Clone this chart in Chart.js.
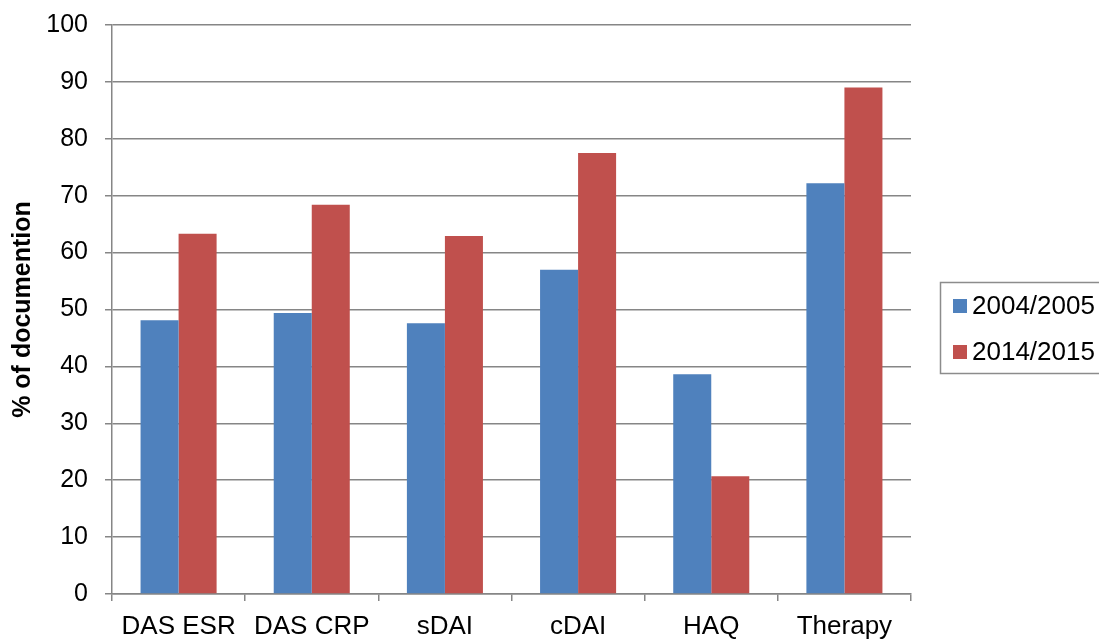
<!DOCTYPE html>
<html>
<head>
<meta charset="utf-8">
<script src="https://cdn.jsdelivr.net/npm/chart.js@4.4.1/dist/chart.umd.min.js"></script>
<style>
  html, body { margin: 0; padding: 0; background: #ffffff; }
  #wrap { width: 1099px; height: 639px; position: relative; }
</style>
</head>
<body>
<div id="wrap"><canvas id="chart" width="1099" height="639"></canvas></div>
<script>
// Documentation rates per measure, two survey periods
const categories = ['DAS ESR', 'DAS CRP', 'sDAI', 'cDAI', 'HAQ', 'Therapy'];
const series2004 = [48.1, 49.4, 47.6, 57.0, 38.6, 72.2];
const series2014 = [63.3, 68.4, 62.9, 77.5, 20.7, 89.0];
const seriesNames = ['2004/2005', '2014/2015'];
const yTicks = [0, 10, 20, 30, 40, 50, 60, 70, 80, 90, 100];

const FONT = "'Liberation Sans', Arial, Helvetica, sans-serif";
const GRID = '#868686';
const BLUE = '#4F81BD';
const RED = '#C0504D';

// Boxed legend to the right of the plot
const boxedLegend = {
  id: 'boxedLegend',
  afterDraw(chart) {
    const ctx = chart.ctx;
    const ds = chart.data.datasets;
    const left = 940.5, top = 282.5, right = 1110, bottom = 373.5;
    ctx.save();
    ctx.strokeStyle = '#8c8c8c';
    ctx.lineWidth = 1.5;
    ctx.strokeRect(left, top, right - left, bottom - top);
    ctx.font = '26px ' + FONT;
    ctx.textBaseline = 'middle';
    ctx.textAlign = 'left';
    const rowY = [306, 352];
    ds.forEach((d, i) => {
      ctx.fillStyle = d.backgroundColor;
      ctx.fillRect(953, rowY[i] - 7, 14, 14);
      ctx.fillStyle = '#000000';
      ctx.fillText(d.label, 972, rowY[i] + 1);
    });
    ctx.restore();
  }
};

new Chart(document.getElementById('chart'), {
  type: 'bar',
  data: {
    labels: categories,
    datasets: [
      { label: seriesNames[0], data: series2004, backgroundColor: BLUE, borderWidth: 0 },
      { label: seriesNames[1], data: series2014, backgroundColor: RED, borderWidth: 0 }
    ]
  },
  options: {
    responsive: false,
    animation: false,
    devicePixelRatio: 1,
    layout: { padding: { left: 0, top: 25, right: 188, bottom: 0 } },
    datasets: { bar: { categoryPercentage: 0.571, barPercentage: 1.0 } },
    plugins: {
      legend: { display: false },
      tooltip: { enabled: false }
    },
    scales: {
      x: {
        grid: {
          offset: true,
          drawOnChartArea: false,
          drawTicks: true,
          tickLength: 7,
          color: GRID,
          lineWidth: 1.5
        },
        border: { display: true, color: GRID, width: 1.5 },
        ticks: {
          color: '#000000',
          font: { family: FONT, size: 26 },
          padding: 10,
          maxRotation: 0,
          autoSkip: false
        },
        afterFit(scale) {
          scale.height = 45;
          scale.paddingLeft = 0;
          scale.paddingRight = 0;
        }
      },
      y: {
        min: 0,
        max: 100,
        afterBuildTicks(scale) { scale.ticks = yTicks.map(v => ({ value: v })); },
        grid: {
          drawTicks: true,
          tickLength: 7,
          color: GRID,
          lineWidth: 1.5
        },
        border: { display: true, color: GRID, width: 1.5 },
        ticks: {
          color: '#000000',
          font: { family: FONT, size: 25 },
          padding: 17
        },
        title: {
          display: true,
          text: '% of documention',
          color: '#000000',
          font: { family: FONT, size: 25, weight: 'bold' },
          padding: { top: 8, bottom: 0 }
        },
        afterFit(scale) {
          scale.width = 112;
          scale.paddingTop = 0;
          scale.paddingBottom = 0;
        }
      }
    }
  },
  plugins: [boxedLegend]
});
</script>
</body>
</html>
